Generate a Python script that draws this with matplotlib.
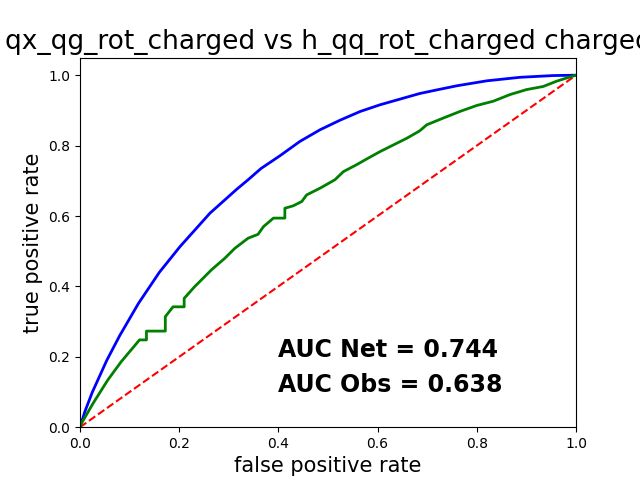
import matplotlib
matplotlib.use("Agg")
import matplotlib.pyplot as plt

# ROC: network output
net_fpr = [0.0, 0.01, 0.025, 0.054, 0.08, 0.118, 0.16, 0.2016, 0.262, 0.316, 0.339,
           0.365, 0.403, 0.4435, 0.484, 0.524, 0.565, 0.605, 0.645, 0.685, 0.722,
           0.76, 0.82, 0.887, 0.954, 1.0]
net_tpr = [0.0, 0.045, 0.10, 0.19, 0.26, 0.352, 0.44, 0.513, 0.608, 0.676, 0.703,
           0.735, 0.771, 0.812, 0.845, 0.872, 0.897, 0.916, 0.932, 0.948, 0.959,
           0.970, 0.984, 0.994, 0.999, 1.0]

# ROC of the observable (step-like)
obs_fpr = [0.0, 0.003, 0.026, 0.056, 0.083, 0.120, 0.134, 0.134, 0.172, 0.172, 0.1875,
           0.21, 0.21, 0.231, 0.265, 0.292, 0.312, 0.339, 0.359, 0.370, 0.39, 0.413,
           0.413, 0.43, 0.447, 0.457, 0.484, 0.514, 0.531, 0.558, 0.578, 0.605, 0.632,
           0.659, 0.685, 0.699, 0.732, 0.766, 0.80, 0.833, 0.867, 0.90, 0.934, 0.961,
           0.981, 1.0]
obs_tpr = [0.0, 0.011, 0.067, 0.134, 0.186, 0.248, 0.248, 0.273, 0.273, 0.314, 0.342,
           0.342, 0.366, 0.399, 0.447, 0.480, 0.508, 0.537, 0.548, 0.570, 0.594, 0.594,
           0.622, 0.629, 0.641, 0.660, 0.679, 0.703, 0.726, 0.746, 0.762, 0.783, 0.802,
           0.821, 0.842, 0.859, 0.878, 0.897, 0.914, 0.926, 0.945, 0.959, 0.968, 0.983,
           0.992, 1.0]

auc_net = 0.744
auc_obs = 0.638
title = "qx_qg_rot_charged vs h_qq_rot_charged charged"

fig = plt.figure(figsize=(6.4, 4.8), dpi=100)
ax = fig.add_subplot(111)
ax.plot([0, 1], [0, 1], "r--", linewidth=1.5)
ax.plot(net_fpr, net_tpr, color="blue", linewidth=2)
ax.plot(obs_fpr, obs_tpr, color="green", linewidth=2)
ax.set_xlim(0, 1)
ax.set_ylim(0, 1.05)
ax.set_xlabel("false positive rate", fontsize=15)
ax.set_ylabel("true positive rate", fontsize=15)
ax.set_title(title, fontsize=19)
ax.text(0.4, 0.2, "AUC Net = {:.3f}".format(auc_net), fontsize=17, fontweight="bold")
ax.text(0.4, 0.1, "AUC Obs = {:.3f}".format(auc_obs), fontsize=17, fontweight="bold")

fig.savefig("out.png")
